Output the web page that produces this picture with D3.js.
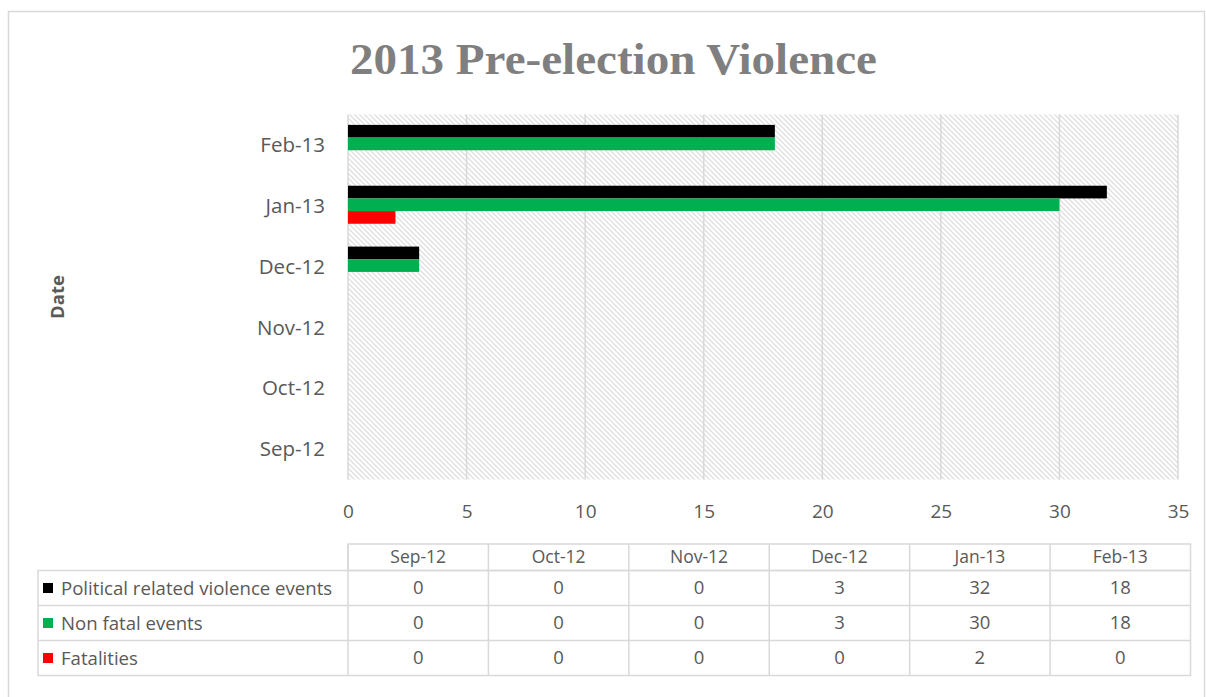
<!DOCTYPE html>
<html><head><meta charset="utf-8">
<script src="https://cdn.jsdelivr.net/npm/d3@7"></script>
<style>body{margin:0;background:#fff}svg{display:block}</style>
</head><body>
<svg id="chart" width="1206" height="697"></svg>
<script>
const categories = ["Sep-12","Oct-12","Nov-12","Dec-12","Jan-13","Feb-13"];
const seriesNames = ["Political related violence events","Non fatal events","Fatalities"];
const political = [0,0,0,3,32,18];
const nonFatal = [0,0,0,3,30,18];
const fatalities = [0,0,0,0,2,0];
const seriesColors = ["#000000","#00b050","#ff0000"];
const xTicks = [0,5,10,15,20,25,30,35];
const titleText = "2013 Pre-election Violence";
const yTitle = "Date";

const series = [political, nonFatal, fatalities];
const svg = d3.select("#chart");
const txt = "#595959";
const grid = "#d9d9d9";
const font = "'Open Sans', Lato, sans-serif";

// outer border
svg.append("rect").attr("x",8.5).attr("y",11.5).attr("width",1196).attr("height",700)
  .attr("fill","none").attr("stroke","#d9d9d9").attr("stroke-width",1.5);

// hatch pattern (downward diagonal stripes)
const defs = svg.append("defs");
const pat = defs.append("pattern").attr("id","hatch").attr("patternUnits","userSpaceOnUse")
  .attr("width",5).attr("height",5);
pat.append("rect").attr("width",5).attr("height",5).attr("fill","#fff");
pat.append("path").attr("d","M-1,-1 L6,6 M-3.5,1.5 L3.5,8.5 M1.5,-3.5 L8.5,3.5")
  .attr("stroke","#e0e0e0").attr("stroke-width",1.4);

const L = 348, R = 1178, T = 114.5, B = 479.5;
const x = d3.scaleLinear().domain([0,35]).range([L,R]);
const y = d3.scaleBand().domain(categories.slice().reverse()).range([T,B])
  .paddingInner(0.375).paddingOuter(0.1875);
const ys = d3.scaleBand().domain(d3.range(series.length)).range([0,y.bandwidth()]);

svg.append("rect").attr("x",L).attr("y",T).attr("width",R-L).attr("height",B-T).attr("fill","url(#hatch)");

// gridlines
svg.append("g").selectAll("line").data(xTicks).join("line")
  .attr("x1",d=>x(d)).attr("x2",d=>x(d)).attr("y1",T).attr("y2",B)
  .attr("stroke",grid).attr("stroke-width",1.5);

// bars
series.forEach((vals,si)=>{
  svg.append("g").selectAll("rect").data(categories.map((c,i)=>({c,v:vals[i]}))).join("rect")
    .attr("x",x(0)).attr("y",d=>y(d.c)+ys(si)-1)
    .attr("width",d=>x(d.v)-x(0)).attr("height",ys.bandwidth())
    .attr("fill",seriesColors[si]);
});

// x axis labels
const xAxis = d3.axisBottom(x).tickValues(xTicks).tickSize(0).tickPadding(0);
const gx = svg.append("g").attr("transform",`translate(0,${B})`).call(xAxis);
gx.select(".domain").remove();
gx.selectAll("text").attr("dy",0).attr("y",38).attr("font-family",font).attr("font-size",19).attr("fill",txt);

// y axis labels
const yAxis = d3.axisLeft(y).tickSize(0).tickPadding(0);
const gy = svg.append("g").attr("transform",`translate(${L},0)`).call(yAxis);
gy.select(".domain").remove();
gy.selectAll("text").attr("x",-23).attr("dy","0.35em").attr("font-family",font).attr("font-size",20.5).attr("fill",txt);

// title
svg.append("text").attr("x",613.5).attr("y",74).attr("text-anchor","middle")
  .attr("font-family","'Liberation Serif', 'DejaVu Serif', serif").attr("font-weight","bold")
  .attr("font-size",45).attr("fill","#7f7f7f").attr("textLength",527).attr("lengthAdjust","spacingAndGlyphs")
  .text(titleText);

// y title
svg.append("text").attr("transform","translate(64,297) rotate(-90)").attr("text-anchor","middle")
  .attr("font-family",font).attr("font-weight","bold").attr("font-size",18.5).attr("fill",txt).text(yTitle);

// data table
const colX = d3.scaleBand().domain(categories).range([348,1190.5]);
const tb = svg.append("g");
const headT = 544, headB = 570.5, rowH = 35;
const rowY = d3.scaleBand().domain(d3.range(series.length)).range([headB, headB+rowH*series.length]);
const lineStyle = s=>s.attr("stroke",grid).attr("stroke-width",1.5);
tb.append("rect").attr("x",348).attr("y",headT).attr("width",1190.5-348).attr("height",headB-headT)
  .attr("fill","none").call(lineStyle);
tb.append("rect").attr("x",38).attr("y",headB).attr("width",1190.5-38).attr("height",rowH*series.length)
  .attr("fill","none").call(lineStyle);
tb.selectAll("line.v").data(categories.slice(1)).join("line").attr("class","v")
  .attr("x1",d=>colX(d)).attr("x2",d=>colX(d)).attr("y1",headT).attr("y2",headB+rowH*series.length).call(lineStyle);
tb.append("line").attr("x1",348).attr("x2",348).attr("y1",headT).attr("y2",headB+rowH*series.length).call(lineStyle);
tb.selectAll("line.h").data(d3.range(1,series.length)).join("line").attr("class","h")
  .attr("x1",38).attr("x2",1190.5).attr("y1",d=>rowY(d)).attr("y2",d=>rowY(d)).call(lineStyle);
tb.selectAll("text.hd").data(categories).join("text").attr("class","hd")
  .attr("x",d=>colX(d)+colX.bandwidth()/2).attr("y",(headT+headB)/2).attr("dy","0.35em")
  .attr("text-anchor","middle").attr("font-family",font).attr("font-size",17.5).attr("fill",txt).text(d=>d);
series.forEach((vals,si)=>{
  const cy = rowY(si)+rowH/2;
  tb.append("rect").attr("x",43).attr("y",cy-5).attr("width",10).attr("height",10).attr("fill",seriesColors[si]);
  tb.append("text").attr("x",61).attr("y",cy).attr("dy","0.35em").attr("font-family",font).attr("font-size",18.6)
    .attr("fill",txt).text(seriesNames[si]);
  tb.selectAll(null).data(categories.map((c,i)=>({c,v:vals[i]}))).join("text")
    .attr("x",d=>colX(d.c)+colX.bandwidth()/2).attr("y",cy).attr("dy","0.35em")
    .attr("text-anchor","middle").attr("font-family",font).attr("font-size",18.5).attr("fill",txt).text(d=>d.v);
});
</script>
</body></html>
